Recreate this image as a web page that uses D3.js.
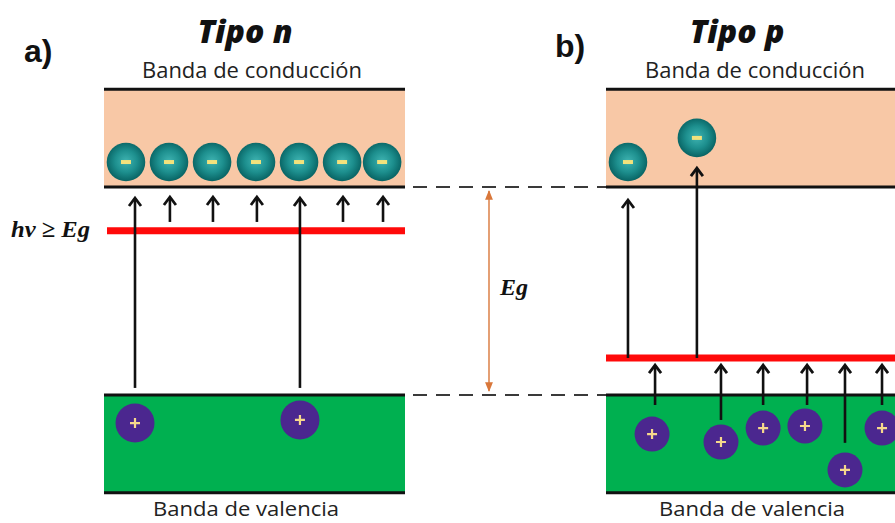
<!DOCTYPE html>
<html>
<head>
<meta charset="utf-8">
<script src="https://cdn.jsdelivr.net/npm/d3@7"></script>
<style>
  html, body { margin: 0; padding: 0; background: #fff; }
  svg { display: block; }
</style>
</head>
<body>
<svg id="chart" width="895" height="523"></svg>
<script>
// Energy axis: valence-band edge Ev = 0, conduction-band edge Ec = 1 (one band gap)
const panelLetters = ["a)", "b)"];
const panelTitles = ["Tipo n", "Tipo p"];
const bandLabels = ["Banda de conducción", "Banda de valencia"];
const bandLevels = [-0.47, 0, 1, 1.47];          // valence bottom, Ev, Ec, conduction top
const impurityLevels = [0.79, 0.178];            // donor level (n), acceptor level (p)

// particles: [position across band (0..1), energy]
const electronsN = [[0.073, 1.12], [0.216, 1.12], [0.359, 1.12], [0.505, 1.12], [0.648, 1.12], [0.791, 1.12], [0.924, 1.12]];
const holesN = [[0.103, -0.135], [0.651, -0.12]];
const electronsP = [[0.073, 1.12], [0.302, 1.236]];
const holesP = [[0.153, -0.188], [0.382, -0.226], [0.522, -0.159], [0.661, -0.149], [0.794, -0.36], [0.917, -0.159]];

// transitions: [position, start energy, end energy]
const arrowsN = [[0.103, 0.034, 0.947], [0.219, 0.832, 0.952], [0.362, 0.832, 0.952], [0.508, 0.832, 0.952],
                 [0.651, 0.034, 0.947], [0.794, 0.832, 0.952], [0.927, 0.832, 0.952]];
const arrowsP = [[0.073, 0.178, 0.9375], [0.302, 0.178, 1.091],
                 [0.163, -0.048, 0.144], [0.382, -0.12, 0.144], [0.522, -0.048, 0.144],
                 [0.668, -0.048, 0.144], [0.794, -0.23, 0.144], [0.917, -0.048, 0.144]];

const svg = d3.select("#chart");
const W = 895, H = 523;

const y = d3.scaleLinear().domain([0, 1]).range([395, 187]);
const bandWidth = 301;
const panelX0 = [104, 606];
const xScales = panelX0.map(x0 => d3.scaleLinear().domain([0, 1]).range([x0, x0 + bandWidth]));

const defs = svg.append("defs");
const eg = defs.append("radialGradient").attr("id", "electronFill")
  .attr("cx", "50%").attr("cy", "48%").attr("r", "52%");
eg.append("stop").attr("offset", "0%").attr("stop-color", "#3fb3b1");
eg.append("stop").attr("offset", "55%").attr("stop-color", "#1d8f8e");
eg.append("stop").attr("offset", "100%").attr("stop-color", "#086363");

const clip = defs.append("clipPath").attr("id", "page");
clip.append("rect").attr("width", W).attr("height", H);

const root = svg.append("g").attr("clip-path", "url(#page)");

const panels = [
  { electrons: electronsN, holes: holesN, arrows: arrowsN, level: impurityLevels[0], redX0: 0.01 },
  { electrons: electronsP, holes: holesP, arrows: arrowsP, level: impurityLevels[1], redX0: 0 }
];

// dashed guides joining the band edges of both panels
root.selectAll("line.guide").data([bandLevels[1], bandLevels[2]]).join("line")
  .attr("class", "guide")
  .attr("x1", xScales[0](1) + 8).attr("x2", xScales[1](0))
  .attr("y1", d => y(d)).attr("y2", d => y(d))
  .attr("stroke", "#3a3a3a").attr("stroke-width", 2)
  .attr("stroke-dasharray", "14,9");

panels.forEach((p, i) => {
  const x = xScales[i];
  const g = root.append("g");

  // bands
  g.append("rect").attr("x", x(0)).attr("width", x(1) - x(0))
    .attr("y", y(bandLevels[3])).attr("height", y(bandLevels[2]) - y(bandLevels[3]))
    .attr("fill", "#f8c8a6");
  g.append("rect").attr("x", x(0)).attr("width", x(1) - x(0))
    .attr("y", y(bandLevels[1])).attr("height", y(bandLevels[0]) - y(bandLevels[1]))
    .attr("fill", "#00b050");
  g.selectAll("line.edge").data(bandLevels).join("line")
    .attr("class", "edge")
    .attr("x1", x(0)).attr("x2", x(1))
    .attr("y1", d => y(d)).attr("y2", d => y(d))
    .attr("stroke", "#111").attr("stroke-width", 3);

  // impurity level
  g.append("line")
    .attr("x1", x(p.redX0)).attr("x2", x(1))
    .attr("y1", y(p.level)).attr("y2", y(p.level))
    .attr("stroke", "#ff0a0a").attr("stroke-width", 7);

  // transitions
  const arr = g.selectAll("g.arrow").data(p.arrows).join("g").attr("class", "arrow");
  arr.append("line")
    .attr("x1", d => x(d[0])).attr("x2", d => x(d[0]))
    .attr("y1", d => y(d[1])).attr("y2", d => y(d[2]) + 1)
    .attr("stroke", "#111").attr("stroke-width", 2.6);
  arr.append("path")
    .attr("d", d => {
      const cx = x(d[0]), ty = y(d[2]);
      return `M${cx - 6},${ty + 8} L${cx},${ty} L${cx + 6},${ty + 8}`;
    })
    .attr("fill", "none").attr("stroke", "#111").attr("stroke-width", 2.8)
    .attr("stroke-linejoin", "miter");

  // electrons
  const el = g.selectAll("g.electron").data(p.electrons).join("g").attr("class", "electron")
    .attr("transform", d => `translate(${x(d[0])},${y(d[1])})`);
  el.append("circle").attr("r", 19.3).attr("fill", "url(#electronFill)");
  el.append("rect").attr("x", -5).attr("y", -2).attr("width", 10).attr("height", 4)
    .attr("fill", "#f3e27c");

  // holes
  const ho = g.selectAll("g.hole").data(p.holes).join("g").attr("class", "hole")
    .attr("transform", d => `translate(${x(d[0])},${y(d[1])})`);
  ho.append("circle").attr("r", i === 0 ? 19.5 : 17.5).attr("fill", "#4b278f");
  ho.append("path").attr("d", "M-5,0 H5 M0,-5 V5")
    .attr("stroke", "#f6d88c").attr("stroke-width", 2.2);

  // labels
  g.append("text").attr("x", [252, 755][i]).attr("y", 78).attr("text-anchor", "middle")
    .attr("font-family", "Open Sans").attr("font-size", 21.5).attr("fill", "#222")
    .attr("textLength", 220).attr("lengthAdjust", "spacingAndGlyphs")
    .text(bandLabels[0]);
  g.append("text").attr("x", [246, 752][i]).attr("y", 516).attr("text-anchor", "middle")
    .attr("font-family", "Open Sans").attr("font-size", 20.5).attr("fill", "#222")
    .attr("textLength", 186).attr("lengthAdjust", "spacingAndGlyphs")
    .text(bandLabels[1]);
  g.append("text").attr("x", [245, 737][i]).attr("y", 43).attr("text-anchor", "middle")
    .attr("font-family", "Open Sans").attr("font-weight", 800).attr("font-style", "italic")
    .attr("font-size", 32).attr("fill", "#111")
    .text(panelTitles[i]);
  g.append("text").attr("x", [24, 555][i]).attr("y", [62, 57][i])
    .attr("font-family", "Liberation Sans").attr("font-weight", 700)
    .attr("font-size", 32).attr("fill", "#111")
    .text(panelLetters[i]);
});

// band gap marker
const egX = 489;
defs.append("marker").attr("id", "egHead").attr("viewBox", "0 0 10 10")
  .attr("refX", 9).attr("refY", 5).attr("markerWidth", 7).attr("markerHeight", 7)
  .attr("orient", "auto-start-reverse")
  .append("path").attr("d", "M0,1 L10,5 L0,9 Z").attr("fill", "#d9773a");
root.append("line")
  .attr("x1", egX).attr("x2", egX)
  .attr("y1", y(bandLevels[2]) + 4).attr("y2", y(bandLevels[1]) - 4)
  .attr("stroke", "#d9773a").attr("stroke-width", 1.4)
  .attr("marker-start", "url(#egHead)").attr("marker-end", "url(#egHead)");
root.append("text").attr("x", 500).attr("y", 295)
  .attr("font-family", "Liberation Serif").attr("font-weight", 700).attr("font-style", "italic")
  .attr("font-size", 24).attr("fill", "#111").text("Eg");

root.append("text").attr("x", 11).attr("y", 237)
  .attr("font-family", "Liberation Serif").attr("font-weight", 700).attr("font-style", "italic")
  .attr("font-size", 24).attr("fill", "#111")
  .attr("textLength", 79).attr("lengthAdjust", "spacingAndGlyphs")
  .text("hν ≥ Eg");
</script>
</body>
</html>
